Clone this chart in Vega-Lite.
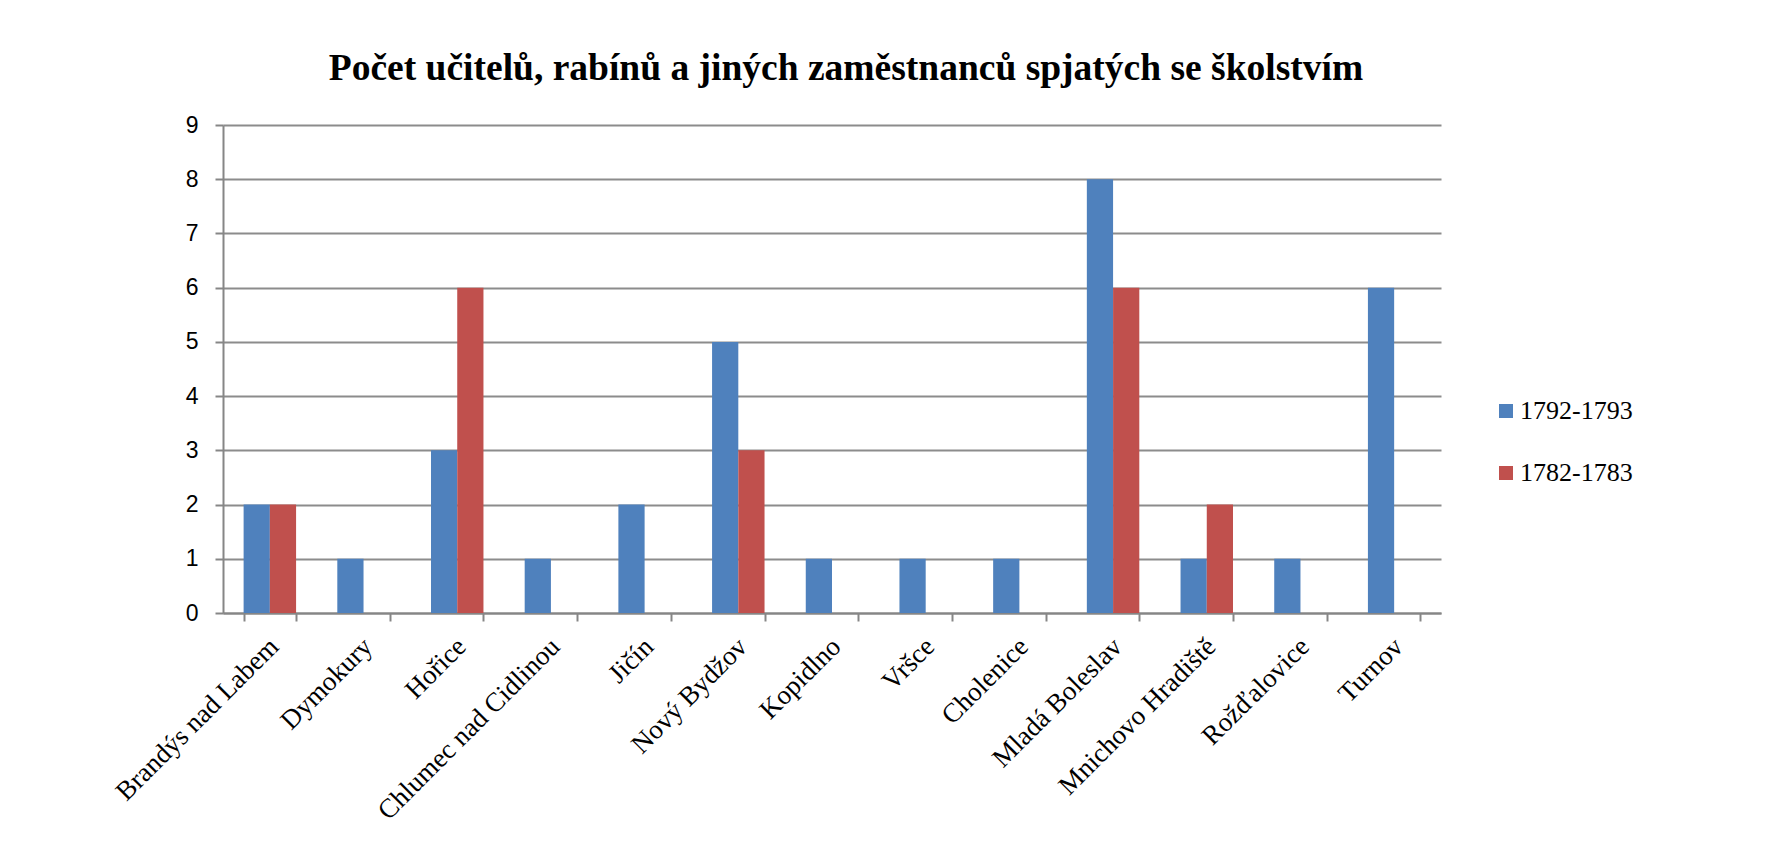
{
  "$schema": "https://vega.github.io/schema/vega-lite/v6.json",
  "width": 1218,
  "height": 488,
  "autosize": {"type": "none"},
  "padding": {"left": 223, "top": 125, "right": 325, "bottom": 246},
  "background": "white",
  "title": {
    "text": "Počet učitelů, rabínů a jiných zaměstnanců spjatých se školstvím",
    "font": "Liberation Serif",
    "fontSize": 37.5,
    "fontWeight": "bold",
    "color": "black",
    "anchor": "middle",
    "baseline": "alphabetic",
    "dx": 14,
    "offset": -3
  },
  "data": {
    "values": [
      {"mesto": "Brandýs nad Labem", "obdobi": "1792-1793", "pocet": 2},
      {"mesto": "Brandýs nad Labem", "obdobi": "1782-1783", "pocet": 2},
      {"mesto": "Dymokury", "obdobi": "1792-1793", "pocet": 1},
      {"mesto": "Hořice", "obdobi": "1792-1793", "pocet": 3},
      {"mesto": "Hořice", "obdobi": "1782-1783", "pocet": 6},
      {"mesto": "Chlumec nad Cidlinou", "obdobi": "1792-1793", "pocet": 1},
      {"mesto": "Jičín", "obdobi": "1792-1793", "pocet": 2},
      {"mesto": "Nový Bydžov", "obdobi": "1792-1793", "pocet": 5},
      {"mesto": "Nový Bydžov", "obdobi": "1782-1783", "pocet": 3},
      {"mesto": "Kopidlno", "obdobi": "1792-1793", "pocet": 1},
      {"mesto": "Vršce", "obdobi": "1792-1793", "pocet": 1},
      {"mesto": "Cholenice", "obdobi": "1792-1793", "pocet": 1},
      {"mesto": "Mladá Boleslav", "obdobi": "1792-1793", "pocet": 8},
      {"mesto": "Mladá Boleslav", "obdobi": "1782-1783", "pocet": 6},
      {"mesto": "Mnichovo Hradiště", "obdobi": "1792-1793", "pocet": 1},
      {"mesto": "Mnichovo Hradiště", "obdobi": "1782-1783", "pocet": 2},
      {"mesto": "Rožďalovice", "obdobi": "1792-1793", "pocet": 1},
      {"mesto": "Turnov", "obdobi": "1792-1793", "pocet": 6}
    ]
  },
  "mark": {"type": "bar"},
  "encoding": {
    "x": {
      "field": "mesto",
      "type": "nominal",
      "sort": null,
      "scale": {"paddingInner": 0.44, "paddingOuter": 0.22},
      "axis": {
        "title": null,
        "tickBand": "extent",
        "labelAngle": -45,
        "labelFont": "Liberation Serif",
        "labelFontSize": 27,
        "labelColor": "black",
        "labelLimit": 0,
        "labelPadding": 12,
        "labelOffset": -5,
        "tickSize": 8,
        "tickColor": "#868686",
        "tickWidth": 2,
        "domainColor": "#868686",
        "domainWidth": 2,
        "grid": false
      }
    },
    "xOffset": {
      "field": "obdobi",
      "type": "nominal",
      "sort": ["1792-1793", "1782-1783"],
      "scale": {"domain": ["1792-1793", "1782-1783"], "paddingInner": 0, "paddingOuter": 0}
    },
    "y": {
      "field": "pocet",
      "type": "quantitative",
      "scale": {"domain": [0, 9], "nice": false},
      "axis": {
        "title": null,
        "values": [0, 1, 2, 3, 4, 5, 6, 7, 8, 9],
        "labelFont": "Liberation Sans",
        "labelFontSize": 23,
        "labelColor": "black",
        "labelPadding": 17,
        "tickSize": 8,
        "tickColor": "#868686",
        "tickWidth": 2,
        "domainColor": "#868686",
        "domainWidth": 2,
        "grid": true,
        "gridColor": "#8c8c8c",
        "gridWidth": 2
      }
    },
    "color": {
      "field": "obdobi",
      "type": "nominal",
      "scale": {"domain": ["1792-1793", "1782-1783"], "range": ["#4F81BD", "#C0504D"]},
      "legend": {
        "title": null,
        "orient": "none",
        "legendX": 1270,
        "legendY": 273,
        "padding": 0,
        "symbolType": "square",
        "symbolSize": 196,
        "symbolStrokeWidth": 0,
        "labelFont": "Liberation Serif",
        "labelFontSize": 26,
        "labelColor": "black",
        "labelOffset": 1,
        "rowPadding": 36
      }
    }
  },
  "config": {
    "view": {"stroke": null}
  }
}
